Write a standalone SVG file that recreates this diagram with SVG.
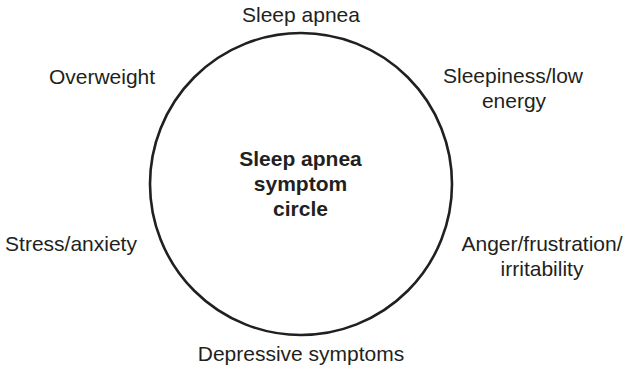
<svg xmlns="http://www.w3.org/2000/svg" width="627" height="369" viewBox="0 0 627 369">
<style>
.lbl{font-family:"Liberation Sans",Arial,sans-serif;font-size:21px;fill:#231f20;text-anchor:middle}
.ttl{font-family:"Liberation Sans",Arial,sans-serif;font-size:21px;font-weight:bold;fill:#231f20;text-anchor:middle}
.ring{fill:none;stroke:#231f20;stroke-width:2.6}
</style>
<rect width="627" height="369" fill="#ffffff"/>
<g id="circle">
<circle class="ring" cx="301" cy="184" r="151"/>
<text class="ttl" x="300.5" y="166">Sleep apnea</text>
<text class="ttl" x="300.5" y="191">symptom</text>
<text class="ttl" x="300.5" y="216">circle</text>
</g>
<g id="sleep-apnea"><text class="lbl" x="301" y="22">Sleep apnea</text></g>
<g id="sleepiness"><text class="lbl" x="513" y="83">Sleepiness/low</text><text class="lbl" x="514" y="108">energy</text></g>
<g id="anger"><text class="lbl" x="542" y="251">Anger/frustration/</text><text class="lbl" x="542" y="276">irritability</text></g>
<g id="depressive"><text class="lbl" x="301" y="361">Depressive symptoms</text></g>
<g id="stress"><text class="lbl" x="71" y="251">Stress/anxiety</text></g>
<g id="overweight"><text class="lbl" x="102" y="84">Overweight</text></g>
<g id="connectors"></g>
</svg>
